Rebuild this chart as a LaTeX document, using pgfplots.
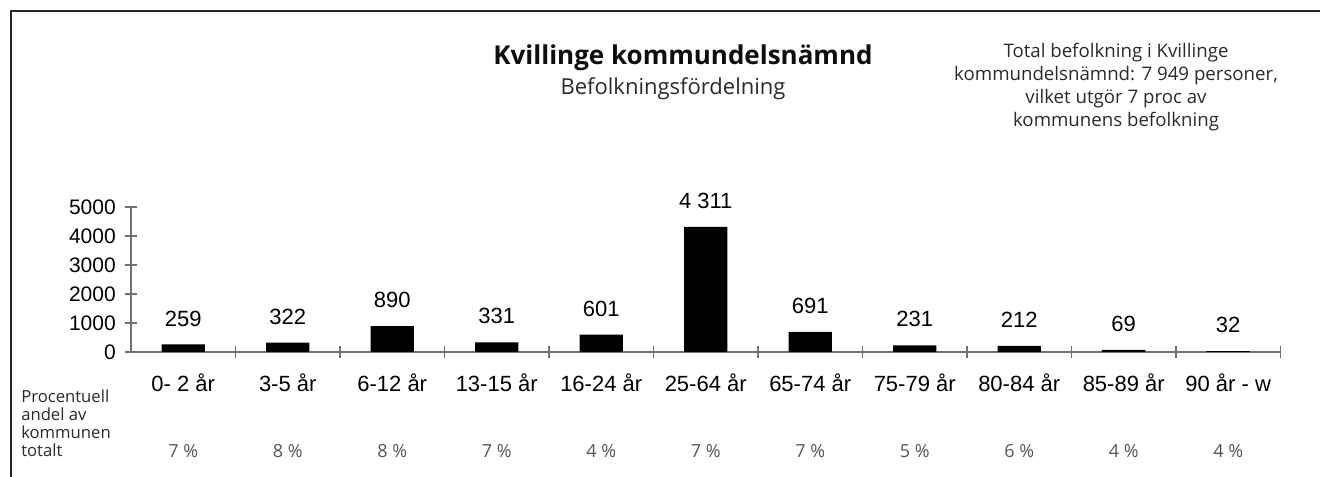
\documentclass[border=0pt]{standalone}
\usepackage{fontspec}
\setmainfont{Open Sans}
\newfontfamily\arial{Liberation Sans}
\newfontfamily\frut{Open Sans}
\usepackage{pgfplots}
\usepackage{pgfplotstable}
\pgfplotsset{compat=1.18}
\definecolor{axisgray}{HTML}{707070}
\definecolor{txtgray}{HTML}{2A2A2A}
\definecolor{pctgray}{HTML}{555555}

\pgfplotstableread[col sep=comma]{
x,y,label
0,259,259
1,322,322
2,890,890
3,331,331
4,601,601
5,4311,4 311
6,691,691
7,231,231
8,212,212
9,69,69
10,32,32
}\data

\begin{document}
\begin{tikzpicture}[x=1pt,y=1pt]
\useasboundingbox (-98.25,-93.75) rectangle (891.75,264);
\draw[line width=1.6pt, black!85] (-90.75,255.75) -- (891.75,255.75);
\draw[line width=1.6pt, black!85] (-90,256.5) -- (-90,-93.75);

% titles
\node[anchor=base, inner sep=0pt, text=black!95, font=\frut\bfseries\fontsize{19.5}{23}\selectfont] at (414,215.25) {Kvillinge kommundelsnämnd};
\node[anchor=base, inner sep=0pt, text=txtgray, font=\frut\fontsize{16.5}{19}\selectfont] at (406.5,192.75) {Befolkningsfördelning};

% note
\begin{scope}[every node/.style={anchor=base, inner sep=0pt, text=txtgray, font=\frut\fontsize{14}{17}\selectfont}]
\node at (738.75,220.5) {Total befolkning i Kvillinge};
\node at (738.75,203.25) {kommundelsnämnd: 7 949 personer,};
\node at (738.75,186) {vilket utgör 7 proc av};
\node at (738.75,168.75) {kommunens befolkning};
\end{scope}

% row label
\begin{scope}[every node/.style={anchor=base west, inner sep=0pt, text=txtgray, font=\frut\fontsize{12.5}{15}\selectfont}]
\node at (-82.5,-38.25) {Procentuell};
\node at (-82.5,-51.75) {andel av};
\node at (-82.5,-65.25) {kommunen};
\node at (-82.5,-78.75) {totalt};
\end{scope}

\begin{axis}[
  at={(0,0)}, anchor=south west,
  scale only axis, width=862.1pt, height=108.75pt,
  xmin=-0.5, xmax=10.5, ymin=0, ymax=5000,
  clip=false,
  axis lines=left,
  axis line style={-, draw=axisgray, line width=1pt},
  tick align=center, major tick length=9pt,
  tick style={draw=axisgray, line width=1pt},
  ytick={0,1000,2000,3000,4000,5000},
  /pgf/number format/1000 sep={},
  /pgf/number format/assume math mode=true,
  yticklabel style={font=\arial\fontsize{15.75}{18}\selectfont, inner sep=0pt, xshift=-6.75pt},
  xtick={0.5,1.5,2.5,3.5,4.5,5.5,6.5,7.5,8.5,9.5,10.5},
  xticklabels={0- 2 år,3-5 år,6-12 år,13-15 år,16-24 år,25-64 år,65-74 år,75-79 år,80-84 år,85-89 år,90 år - w},
  xticklabel style={font=\arial\fontsize{16.5}{19}\selectfont, inner sep=0pt, anchor=north, xshift=-39.19pt, yshift=-12pt},
]
\addplot[ybar, fill=black, draw=none, bar width=32.6pt,
  nodes near coords, point meta=explicit symbolic,
  nodes near coords style={font=\arial\fontsize{16.5}{19}\selectfont, anchor=south, inner sep=0pt, yshift=13.5pt, text=black}]
  table[x=x, y=y, meta=label] {\data};
\end{axis}

\begin{axis}[
  at={(0,0)}, anchor=south west,
  scale only axis, width=862.1pt, height=108.75pt,
  xmin=-0.5, xmax=10.5, ymin=0, ymax=5000,
  hide y axis,
  axis x line*=bottom,
  x axis line style={draw=none},
  xtick style={draw=none},
  xtick={0,1,2,3,4,5,6,7,8,9,10},
  xticklabels={7 \%,8 \%,8 \%,7 \%,4 \%,7 \%,7 \%,5 \%,6 \%,4 \%,4 \%},
  xticklabel style={font=\frut\fontsize{13.5}{16}\selectfont, text=pctgray, inner sep=0pt, anchor=base, yshift=-79.5pt},
]
\addplot[draw=none, forget plot] coordinates {(0,0)};
\end{axis}
\end{tikzpicture}
\end{document}
